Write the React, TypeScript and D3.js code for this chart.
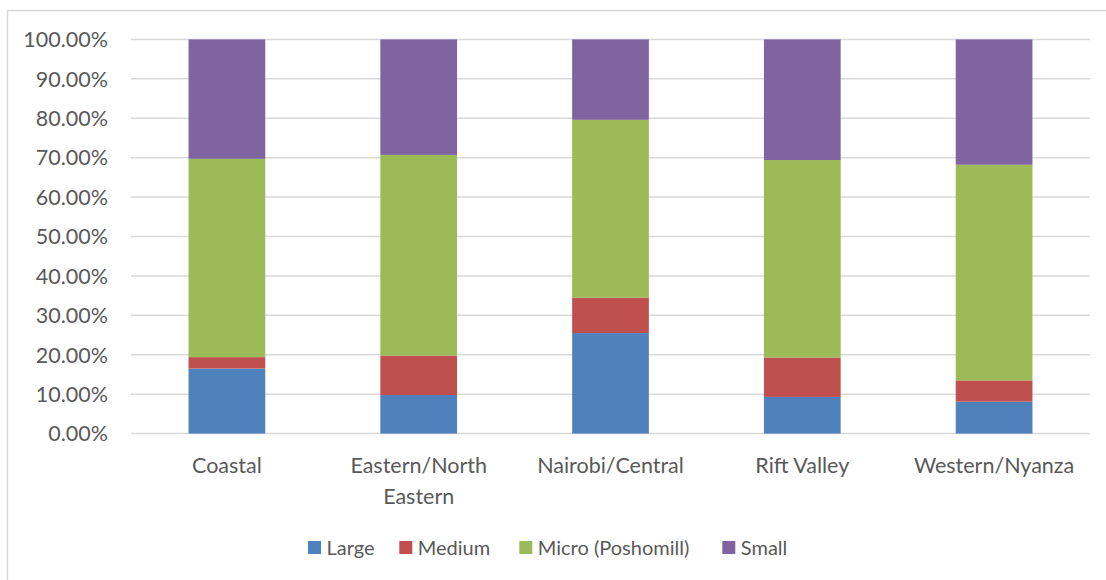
import React, { useEffect, useRef } from "react";
import * as d3 from "d3";

// Mill size share by region (fractions of 1)
const regions = ["Coastal", "Eastern/North Eastern", "Nairobi/Central", "Rift Valley", "Western/Nyanza"];
const seriesNames = ["Large", "Medium", "Micro (Poshomill)", "Small"];
const large = [0.165, 0.098, 0.255, 0.093, 0.081];
const medium = [0.029, 0.100, 0.090, 0.100, 0.054];
const micro = [0.503, 0.509, 0.451, 0.501, 0.547];
const small = [0.303, 0.293, 0.204, 0.306, 0.318];
const seriesColors = ["#4F81BD", "#C0504D", "#9BBB59", "#8064A2"];
const yTicks = [0, 0.1, 0.2, 0.3, 0.4, 0.5, 0.6, 0.7, 0.8, 0.9, 1.0];

const W = 1106;
const H = 580;
const FONT = "Lato, 'Open Sans', sans-serif";
const TEXT = "#595959";
const AXIS_SIZE = "21.5px";
const LEGEND_SIZE = "20px";

export default function App() {
  const ref = useRef<SVGSVGElement>(null);

  useEffect(() => {
    const svg = d3.select(ref.current);
    svg.selectAll("*").remove();

    const plot = { left: 131, right: 1090, top: 39.4, bottom: 433.6 };

    const x = d3
      .scaleBand<string>()
      .domain(regions)
      .range([plot.left, plot.right])
      .paddingInner(0.6)
      .paddingOuter(0.3);
    const y = d3.scaleLinear().domain([0, 1]).range([plot.bottom, plot.top]);

    // chart frame
    svg
      .append("rect")
      .attr("x", 7.5)
      .attr("y", 10.5)
      .attr("width", W + 20)
      .attr("height", H + 20)
      .attr("fill", "white")
      .attr("stroke", "#D9D9D9")
      .attr("stroke-width", 1.5);

    // gridlines
    svg
      .append("g")
      .selectAll("line")
      .data(yTicks)
      .join("line")
      .attr("x1", plot.left)
      .attr("x2", plot.right)
      .attr("y1", (d) => y(d))
      .attr("y2", (d) => y(d))
      .attr("stroke", "#D9D9D9")
      .attr("stroke-width", 1.5);

    // y tick labels
    svg
      .append("g")
      .selectAll("text")
      .data(yTicks)
      .join("text")
      .attr("x", 108)
      .attr("y", (d) => y(d))
      .attr("dy", "0.36em")
      .attr("text-anchor", "end")
      .attr("fill", TEXT)
      .style("font-family", FONT)
      .style("font-size", AXIS_SIZE)
      .text((d) => d3.format(".2%")(d));

    // stacked bars
    const rows = regions.map((r, i) => ({
      region: r,
      [seriesNames[0]]: large[i],
      [seriesNames[1]]: medium[i],
      [seriesNames[2]]: micro[i],
      [seriesNames[3]]: small[i],
    }));
    const stack = d3.stack<any>().keys(seriesNames)(rows);

    svg
      .append("g")
      .selectAll("g")
      .data(stack)
      .join("g")
      .attr("fill", (_, i) => seriesColors[i])
      .selectAll("rect")
      .data((s) => s)
      .join("rect")
      .attr("x", (d) => x(d.data.region) as number)
      .attr("width", x.bandwidth())
      .attr("y", (d) => y(d[1]))
      .attr("height", (d) => y(d[0]) - y(d[1]));

    // category labels, wrapped to the band step
    const maxW = x.step() * 0.95;
    const catG = svg.append("g");
    regions.forEach((r) => {
      const cx = (x(r) as number) + x.bandwidth() / 2;
      const t = catG
        .append("text")
        .attr("x", cx)
        .attr("y", 472.5)
        .attr("text-anchor", "middle")
        .attr("fill", TEXT)
        .style("font-family", FONT)
        .style("font-size", AXIS_SIZE);
      const words = r.split(" ");
      let line: string[] = [];
      let lineNo = 0;
      let tspan = t.append("tspan").attr("x", cx).attr("y", 472.5);
      for (const w of words) {
        line.push(w);
        tspan.text(line.join(" "));
        if ((tspan.node() as SVGTSpanElement).getComputedTextLength() > maxW && line.length > 1) {
          line.pop();
          tspan.text(line.join(" "));
          line = [w];
          lineNo++;
          tspan = t
            .append("tspan")
            .attr("x", cx)
            .attr("y", 472.5 + lineNo * 31.5)
            .text(w);
        }
      }
    });

    // legend
    const legendX = [308, 399.3, 519.3, 722.3];
    const lg = svg.append("g");
    seriesNames.forEach((name, i) => {
      lg.append("rect")
        .attr("x", legendX[i])
        .attr("y", 541)
        .attr("width", 13)
        .attr("height", 13)
        .attr("fill", seriesColors[i]);
      lg.append("text")
        .attr("x", legendX[i] + 18.5)
        .attr("y", 555)
        .attr("fill", TEXT)
        .style("font-family", FONT)
        .style("font-size", LEGEND_SIZE)
        .text(name);
    });
  }, []);

  return (
    <svg
      ref={ref}
      width={W}
      height={H}
      style={{ position: "absolute", left: 0, top: 0, display: "block" }}
    />
  );
}
